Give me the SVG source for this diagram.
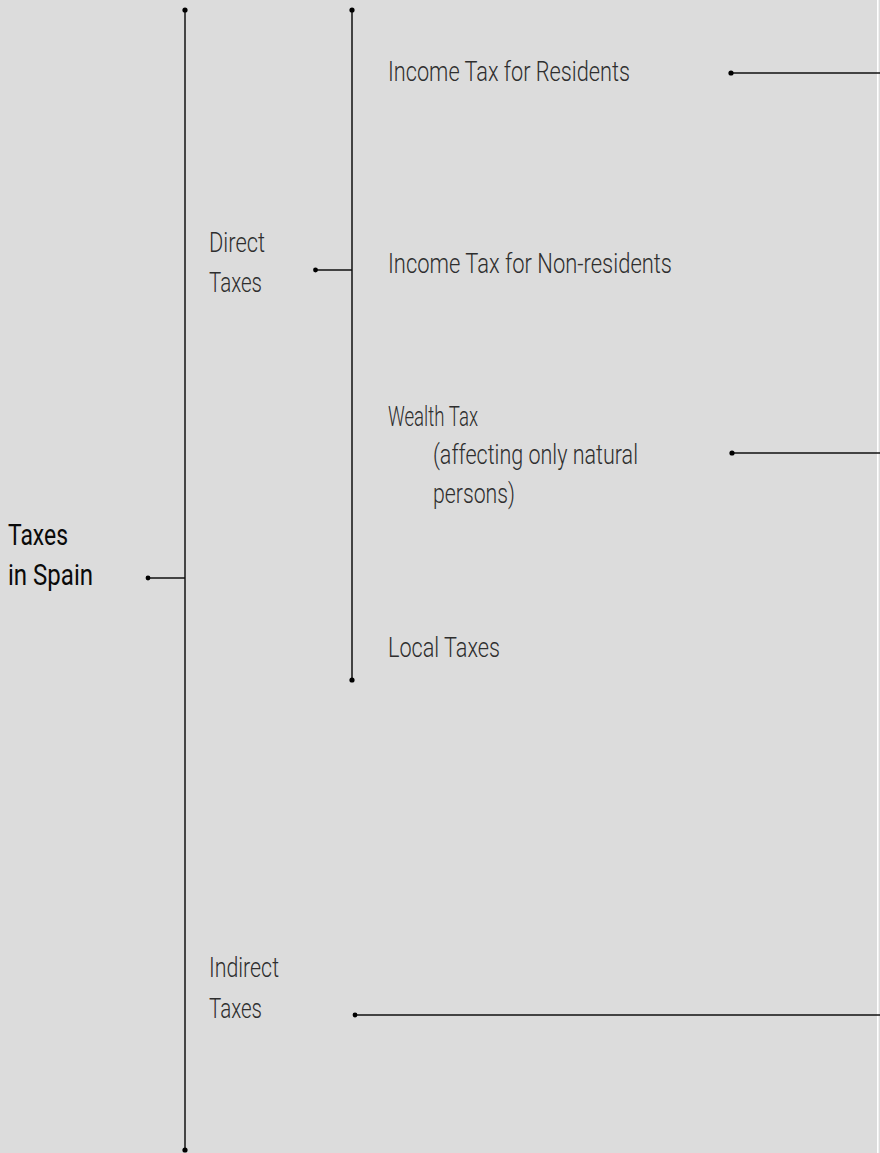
<svg xmlns="http://www.w3.org/2000/svg" width="880" height="1153" viewBox="0 0 880 1153">
  <style>
    .lt { font-family: Roboto, "Liberation Sans", sans-serif; font-weight: 300; font-size: 27.5px; fill: #2e2e2e; }
    .rg { font-family: Roboto, "Liberation Sans", sans-serif; font-weight: 400; font-size: 29px; fill: #0a0a0a; }
    .ln { stroke: #111; stroke-width: 1.5; fill: none; }
    .main { stroke: #454545; stroke-width: 2; fill: none; }
    .dot { fill: #000; }
  </style>
  <rect x="0" y="0" width="880" height="1153" fill="#dcdcdc"/>
  <rect x="877" y="0" width="1.6" height="1153" fill="#ffffff"/>

  <g id="connectors">
    <line class="main" x1="185" y1="10" x2="185" y2="1150"/>
    <circle class="dot" cx="185" cy="10" r="2.6"/>
    <circle class="dot" cx="185" cy="1150" r="2.6"/>
    <line class="ln" x1="148" y1="578" x2="185" y2="578"/>
    <circle class="dot" cx="148" cy="578" r="2.4"/>

    <line class="ln" x1="352" y1="10" x2="352" y2="680"/>
    <circle class="dot" cx="352" cy="10" r="2.6"/>
    <circle class="dot" cx="352" cy="680" r="2.6"/>
    <line class="ln" x1="315.5" y1="270" x2="352" y2="270"/>
    <circle class="dot" cx="315.5" cy="270" r="2.4"/>

    <line class="ln" x1="731" y1="73" x2="880" y2="73"/>
    <circle class="dot" cx="731" cy="73" r="2.6"/>
    <line class="ln" x1="732" y1="453" x2="880" y2="453"/>
    <circle class="dot" cx="732" cy="453" r="2.6"/>
    <line class="ln" x1="355" y1="1015" x2="880" y2="1015"/>
    <circle class="dot" cx="355" cy="1015" r="2.4"/>
  </g>

  <g id="taxes-in-spain">
    <text class="rg" x="8" y="545" textLength="60" lengthAdjust="spacingAndGlyphs">Taxes</text>
    <text class="rg" x="8" y="585" textLength="85" lengthAdjust="spacingAndGlyphs">in Spain</text>
  </g>
  <g id="direct-taxes">
    <text class="lt" x="209" y="252" textLength="56" lengthAdjust="spacingAndGlyphs">Direct</text>
    <text class="lt" x="209" y="292" textLength="53" lengthAdjust="spacingAndGlyphs">Taxes</text>
  </g>
  <g id="indirect-taxes">
    <text class="lt" x="209" y="977" textLength="70" lengthAdjust="spacingAndGlyphs">Indirect</text>
    <text class="lt" x="209" y="1018" textLength="53" lengthAdjust="spacingAndGlyphs">Taxes</text>
  </g>
  <g id="income-residents">
    <text class="lt" x="388" y="81" textLength="242" lengthAdjust="spacingAndGlyphs">Income Tax for Residents</text>
  </g>
  <g id="income-nonresidents">
    <text class="lt" x="388" y="273" textLength="284" lengthAdjust="spacingAndGlyphs">Income Tax for Non-residents</text>
  </g>
  <g id="wealth-tax">
    <text class="lt" x="388" y="426" textLength="90" lengthAdjust="spacingAndGlyphs">Wealth Tax</text>
    <text class="lt" x="433" y="464" textLength="205" lengthAdjust="spacingAndGlyphs">(affecting only natural</text>
    <text class="lt" x="433" y="503" textLength="82" lengthAdjust="spacingAndGlyphs">persons)</text>
  </g>
  <g id="local-taxes">
    <text class="lt" x="388" y="657" textLength="112" lengthAdjust="spacingAndGlyphs">Local Taxes</text>
  </g>
</svg>
